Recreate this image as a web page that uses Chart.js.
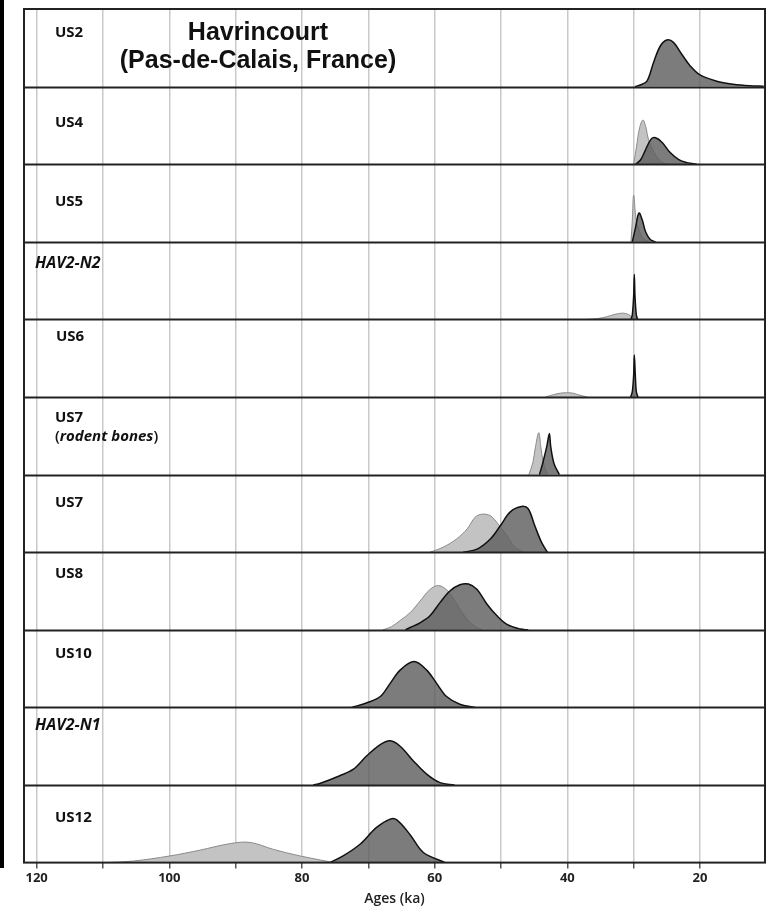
<!DOCTYPE html>
<html>
<head>
<meta charset="utf-8">
<script src="https://cdn.jsdelivr.net/npm/chart.js@4"></script>
<style>
  html, body { margin: 0; padding: 0; background: #fff; }
  #wrap { position: relative; width: 777px; height: 913px; }
  #edge { position: absolute; left: 0; top: 0; width: 4px; height: 868px; background: #000; }
</style>
</head>
<body>
<div id="wrap">
  <canvas id="myChart" width="777" height="913"></canvas>
  <div id="edge"></div>
</div>
<script>
// ================= data (ages in ka, heights as fraction of a panel) =================

var layers = ['US2', 'US4', 'US5', 'HAV2-N2', 'US6', 'US7', 'US7', 'US8', 'US10', 'HAV2-N1', 'US12'];
var italicLayers = ['HAV2-N2', 'HAV2-N1'];
var ageTicks = [120, 100, 80, 60, 40, 20];

// US2
var us2DarkAge = [29.8, 29.0, 28.0, 27.0, 26.0, 25.0, 24.0, 22.7, 21.5, 20.0, 17.5, 15.0, 12.5, 10.4];
var us2DarkH   = [0, 0.02, 0.07, 0.31, 0.52, 0.60, 0.57, 0.41, 0.27, 0.15, 0.07, 0.03, 0.01, 0.005];
// US4
var us4LightAge = [30.0, 29.6, 29.1, 28.6, 28.2, 27.7, 26.9, 26.2, 25.4, 25.0];
var us4LightH   = [0, 0.21, 0.47, 0.57, 0.49, 0.30, 0.15, 0.06, 0.01, 0];
var us4DarkAge  = [29.7, 29.0, 28.4, 27.4, 26.7, 25.7, 24.5, 23.2, 22.0, 21.2, 20.5];
var us4DarkH    = [0, 0.05, 0.15, 0.32, 0.34, 0.28, 0.15, 0.06, 0.02, 0.01, 0];
// US5
var us5LightAge = [30.4, 30.2, 30.0, 29.6, 29.0, 28.5, 28.0, 27.6];
var us5LightH   = [0, 0.28, 0.60, 0.28, 0.11, 0.04, 0.01, 0];
var us5DarkAge  = [30.2, 29.7, 29.2, 28.7, 28.2, 27.5, 26.7];
var us5DarkH    = [0, 0.19, 0.37, 0.28, 0.13, 0.03, 0];
// HAV2-N2
var n2LightAge = [37.0, 35.5, 34.0, 32.8, 31.5, 30.5, 30.0];
var n2LightH   = [0, 0.01, 0.035, 0.065, 0.08, 0.05, 0];
var n2DarkAge  = [30.4, 30.2, 30.0, 29.9, 29.8, 29.6, 29.4];
var n2DarkH    = [0, 0.06, 0.30, 0.58, 0.30, 0.06, 0];
// US6
var us6LightAge = [43.3, 42.1, 41.0, 40.1, 39.2, 38.4, 37.0];
var us6LightH   = [0, 0.03, 0.05, 0.055, 0.05, 0.03, 0];
var us6DarkAge  = [30.45, 30.2, 30.0, 29.9, 29.75, 29.6, 29.35];
var us6DarkH    = [0, 0.07, 0.28, 0.54, 0.28, 0.07, 0];
// US7 (rodent bones)
var us7rLightAge = [45.8, 45.2, 44.8, 44.3, 44.0, 43.6, 43.0];
var us7rLightH   = [0, 0.15, 0.36, 0.54, 0.36, 0.15, 0];
var us7rDarkAge  = [44.2, 43.7, 43.1, 42.7, 42.5, 42.0, 41.2];
var us7rDarkH    = [0, 0.15, 0.36, 0.53, 0.36, 0.14, 0];
// US7
var us7LightAge = [60.7, 58.7, 56.7, 55.1, 53.9, 52.9, 51.6, 50.4, 49.1, 47.9, 46.6];
var us7LightH   = [0, 0.065, 0.17, 0.30, 0.45, 0.49, 0.47, 0.36, 0.21, 0.065, 0];
var us7DarkAge  = [55.7, 53.6, 51.6, 50.1, 48.6, 46.9, 45.9, 44.9, 43.9, 43.0];
var us7DarkH    = [0, 0.04, 0.17, 0.34, 0.52, 0.59, 0.56, 0.34, 0.13, 0];
// US8
var us8LightAge = [67.8, 66.5, 65.2, 63.7, 62.2, 60.7, 59.4, 58.0, 56.8, 55.5, 54.2, 52.9];
var us8LightH   = [0, 0.04, 0.12, 0.22, 0.37, 0.52, 0.57, 0.50, 0.35, 0.18, 0.06, 0];
var us8DarkAge  = [64.4, 63.7, 62.2, 60.7, 59.2, 57.7, 56.2, 54.9, 53.6, 52.1, 50.6, 49.1, 47.1, 45.9];
var us8DarkH    = [0, 0.03, 0.09, 0.18, 0.35, 0.50, 0.58, 0.59, 0.52, 0.33, 0.18, 0.07, 0.01, 0];
// US10
var us10DarkAge = [72.5, 70.2, 68.2, 66.7, 65.2, 63.1, 61.2, 59.7, 58.2, 56.2, 53.9];
var us10DarkH   = [0, 0.06, 0.14, 0.31, 0.48, 0.59, 0.48, 0.31, 0.14, 0.04, 0];
// HAV2-N1
var n1DarkAge = [78.3, 77.3, 74.3, 72.3, 70.3, 68.2, 66.7, 65.2, 63.2, 61.2, 59.2, 57.0];
var n1DarkH   = [0, 0.02, 0.12, 0.20, 0.37, 0.52, 0.57, 0.50, 0.31, 0.14, 0.03, 0];
// US12
var us12LightAge = [109.5, 105.4, 99.9, 95.4, 90.8, 87.8, 84.3, 80.3, 75.8];
var us12LightH   = [0, 0.02, 0.086, 0.16, 0.245, 0.26, 0.17, 0.086, 0.01];
var us12DarkAge  = [75.8, 73.8, 71.2, 68.8, 66.7, 65.7, 63.7, 61.7, 58.4];
var us12DarkH    = [0, 0.086, 0.24, 0.45, 0.56, 0.55, 0.36, 0.13, 0];

// ================= layout / style (not data) =================

var labelX      = [55, 55, 55, 35, 56, 55, 55, 55, 55, 35, 55];
var labelOffset = [28, 40, 42, 26, 22, 25, 32, 26, 28, 23, 37];

var lightFill = '#c3c3c3', lightLine = '#8a8a8a';
var darkFill = 'rgba(95,95,95,0.82)', darkLine = '#111';

function curve(panel, ages, heights, dark){
  var base = 10 - panel;
  return {
    data: ages.map(function(a, k){ return {x: a, y: base + heights[k]}; }),
    fill: {value: base},
    backgroundColor: dark ? darkFill : lightFill,
    borderColor: dark ? darkLine : lightLine,
    borderWidth: dark ? 1.5 : 1,
    pointRadius: 0,
    tension: 0.35,
    showLine: true,
    order: dark ? 0 : 1
  };
}

var datasets = [
  curve(0, us2DarkAge, us2DarkH, true),
  curve(1, us4LightAge, us4LightH, false),
  curve(1, us4DarkAge, us4DarkH, true),
  curve(2, us5LightAge, us5LightH, false),
  curve(2, us5DarkAge, us5DarkH, true),
  curve(3, n2LightAge, n2LightH, false),
  curve(3, n2DarkAge, n2DarkH, true),
  curve(4, us6LightAge, us6LightH, false),
  curve(4, us6DarkAge, us6DarkH, true),
  curve(5, us7rLightAge, us7rLightH, false),
  curve(5, us7rDarkAge, us7rDarkH, true),
  curve(6, us7LightAge, us7LightH, false),
  curve(6, us7DarkAge, us7DarkH, true),
  curve(7, us8LightAge, us8LightH, false),
  curve(7, us8DarkAge, us8DarkH, true),
  curve(8, us10DarkAge, us10DarkH, true),
  curve(9, n1DarkAge, n1DarkH, true),
  curve(10, us12LightAge, us12LightH, false),
  curve(10, us12DarkAge, us12DarkH, true)
];

// panel separators, frame, labels and title
var panelsPlugin = {
  id: 'panels',
  afterDatasetsDraw: function(chart){
    var ctx = chart.ctx, a = chart.chartArea, ys = chart.scales.y;
    ctx.save();
    ctx.strokeStyle = '#222';
    ctx.lineWidth = 1.8;
    for (var v = 1; v < layers.length; v++){
      var py = Math.round(ys.getPixelForValue(v)) + 0.5;
      ctx.beginPath(); ctx.moveTo(a.left, py); ctx.lineTo(a.right, py); ctx.stroke();
    }
    ctx.lineWidth = 2;
    ctx.strokeRect(a.left, a.top, a.right - a.left, a.bottom - a.top);

    ctx.fillStyle = '#111';
    ctx.textBaseline = 'alphabetic';
    ctx.textAlign = 'left';
    layers.forEach(function(name, i){
      var top = ys.getPixelForValue(layers.length - i);
      var italic = italicLayers.indexOf(name) >= 0;
      ctx.font = italic ? 'italic 700 16px "Open Sans"' : '700 15px "Open Sans"';
      ctx.fillText(name, labelX[i], top + labelOffset[i]);
      if (i === 5){
        var bx = labelX[i], by = top + labelOffset[i] + 19;
        ctx.font = '600 15px "Open Sans"';
        ctx.fillText('(', bx, by);
        bx += ctx.measureText('(').width;
        ctx.font = 'italic 700 15px "Open Sans"';
        ctx.fillText('rodent bones', bx, by);
        bx += ctx.measureText('rodent bones').width;
        ctx.font = '600 15px "Open Sans"';
        ctx.fillText(')', bx, by);
      }
    });

    ctx.textAlign = 'center';
    ctx.font = 'bold 25px "Liberation Sans"';
    ctx.fillText('Havrincourt', 258, 40);
    ctx.fillText('(Pas-de-Calais, France)', 258, 68);
    ctx.restore();
  }
};

var ctx1 = document.getElementById('myChart').getContext('2d');

new Chart(ctx1, {
  type: 'scatter',
  data: { datasets: datasets },
  options: {
    responsive: false,
    animation: false,
    layout: { padding: { left: 24, right: 12, top: 9, bottom: 6 } },
    plugins: { legend: { display: false }, tooltip: { enabled: false } },
    scales: {
      x: {
        type: 'linear',
        reverse: true,
        min: 10.2,
        max: 121.9,
        border: { display: false },
        grid: { color: '#c9c9c9', lineWidth: 1.5, tickLength: 6, tickColor: '#555' },
        ticks: {
          stepSize: 10,
          includeBounds: false,
          autoSkip: false,
          maxRotation: 0,
          padding: 2,
          color: '#222',
          font: { family: 'Open Sans', size: 13, weight: '700' },
          callback: function(v){ return ageTicks.indexOf(v) >= 0 ? v : ''; }
        },
        title: {
          display: true,
          text: 'Ages (ka)',
          color: '#222',
          padding: { top: 2, bottom: 0 },
          font: { family: 'Open Sans', size: 14, weight: '600' }
        }
      },
      y: {
        display: false,
        min: 0,
        max: 11
      }
    }
  },
  plugins: [panelsPlugin]
});
</script>
</body>
</html>
